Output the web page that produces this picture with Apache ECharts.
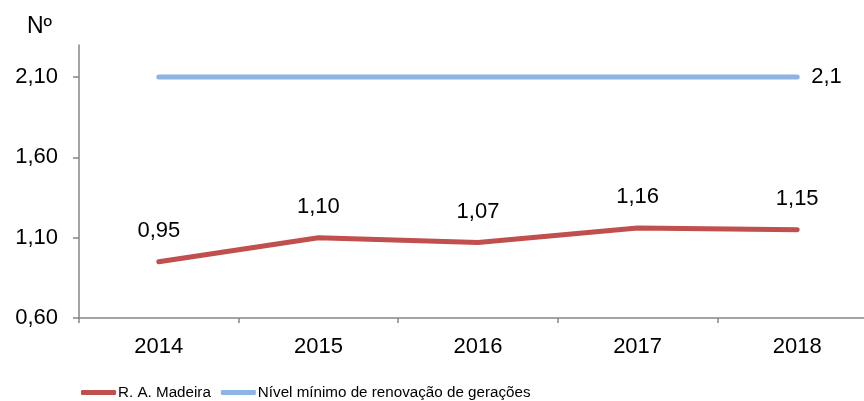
<!DOCTYPE html>
<html>
<head>
<meta charset="utf-8">
<script src="https://cdn.jsdelivr.net/npm/echarts@6/dist/echarts.min.js"></script>
<style>html,body{margin:0;padding:0;background:#fff;overflow:hidden}#c{width:877px;height:401px}</style>
</head>
<body>
<div id="c"></div>
<script>
const categories = ['2014', '2015', '2016', '2017', '2018'];
const madeira = [0.95, 1.10, 1.07, 1.16, 1.15];
const nivelMinimo = [2.1, 2.1, 2.1, 2.1, 2.1];
const yTicks = [0.6, 1.1, 1.6, 2.1];
const seriesNames = ['R. A. Madeira', 'Nível mínimo de renovação de gerações'];

const font = "'Liberation Sans', Arial, sans-serif";
const chart = echarts.init(document.getElementById('c'), null, {renderer: 'canvas'});
chart.setOption({
  animation: false,
  backgroundColor: '#ffffff',
  textStyle: {fontFamily: font},
  graphic: [{type: 'text', left: 27, top: 15, style: {text: 'Nº', font: "23px 'Liberation Sans', Arial, sans-serif", fill: '#000'}}],
  grid: {left: 79, right: 0, top: 45, bottom: 83, containLabel: false},
  legend: {
    left: 76, top: 380,
    itemWidth: 35, itemHeight: 5, itemGap: 10,
    icon: 'roundRect',
    textStyle: {fontSize: 15.2, color: '#000', fontFamily: "'Liberation Sans Narrow', 'Liberation Sans', Arial, sans-serif", padding: [0,0,0,-3]},
    data: [
      {name: seriesNames[0], itemStyle: {color: '#C0504D', opacity: 1}},
      {name: seriesNames[1], itemStyle: {color: '#8DB4E2', opacity: 1}}
    ]
  },
  xAxis: {
    type: 'category', data: categories, boundaryGap: true,
    axisLine: {lineStyle: {color: '#868686', width: 1.5}},
    axisTick: {show: true, length: 5, interval: 0, lineStyle: {color: '#868686', width: 1.5}},
    axisLabel: {fontSize: 22, color: '#000', margin: 18}
  },
  yAxis: {
    type: 'value', min: 0.6, max: 2.3, interval: 0.5,
    axisLine: {show: true, lineStyle: {color: '#868686', width: 1.5}},
    axisTick: {show: true, length: 6, customValues: yTicks, lineStyle: {color: '#868686', width: 1.5}},
    splitLine: {show: false},
    axisLabel: {fontSize: 22, color: '#000', margin: 21, customValues: yTicks,
      formatter: v => v.toFixed(2).replace('.', ',')}
  },
  series: [
    {
      name: seriesNames[0], type: 'line', data: madeira, symbol: 'circle', symbolSize: 0, showSymbol: true,
      color: '#C0504D',
      itemStyle: {color: '#C0504D'},
      lineStyle: {width: 5, color: '#C0504D', cap: 'round'},
      label: {show: true, position: 'top', distance: 20, fontSize: 22, color: '#000', opacity: 1,
        formatter: p => p.value.toFixed(2).replace('.', ',')}
    },
    {
      name: seriesNames[1], type: 'line', data: nivelMinimo, symbol: 'circle', symbolSize: 0, showSymbol: true,
      color: '#8DB4E2',
      itemStyle: {color: '#8DB4E2'},
      lineStyle: {width: 5, color: '#8DB4E2', cap: 'round'},
      label: {show: true, position: 'right', distance: 14, fontSize: 22, color: '#000', opacity: 1,
        formatter: p => p.dataIndex === categories.length - 1 ? String(p.value).replace('.', ',') : ''}
    }
  ]
});
</script>
</body>
</html>
